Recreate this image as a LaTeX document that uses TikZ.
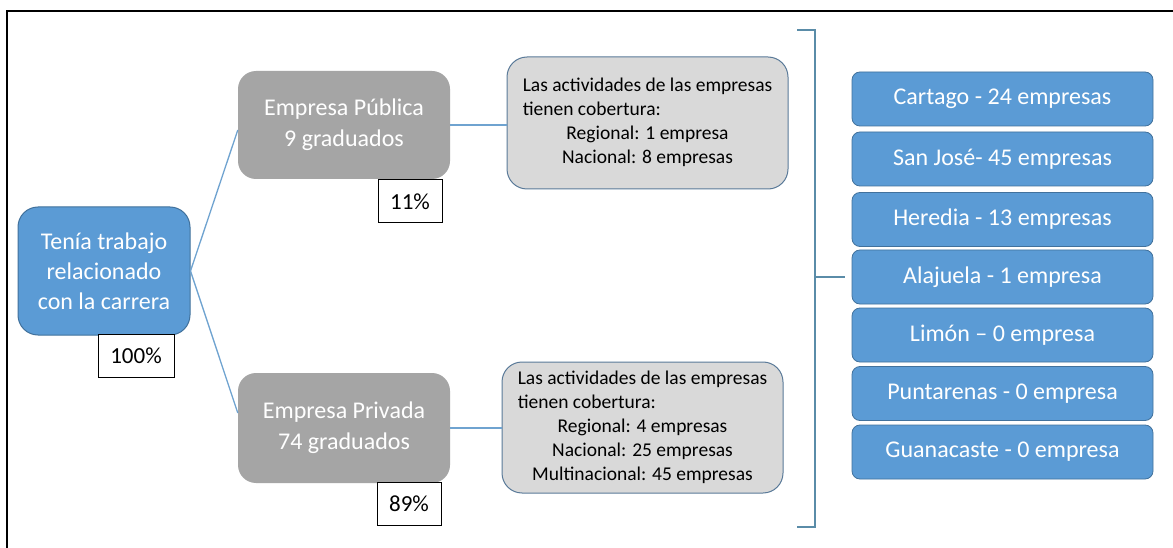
\documentclass[tikz,border=0pt]{standalone}
\usepackage{fontspec}
\setmainfont{Carlito}
\definecolor{blueF}{HTML}{5B9BD5}
\definecolor{blueD}{HTML}{41719C}
\definecolor{grayF}{HTML}{A5A5A5}
\definecolor{infoF}{HTML}{D9D9D9}
\definecolor{infoD}{HTML}{5A7A99}
\definecolor{lineC}{HTML}{6FA3D0}
\definecolor{brackC}{HTML}{5A8CA8}
\begin{document}
\begin{tikzpicture}[x=1pt,y=-1pt,
  bluebox/.style={draw=blueD,line width=1pt,fill=blueF,text=white,rounded corners=20pt,align=center,inner sep=0pt,font=\fontsize{24}{30}\selectfont},
  graybox/.style={fill=grayF,text=white,rounded corners=18pt,align=center,inner sep=0pt,font=\fontsize{24}{31}\selectfont,minimum width=212pt},
  pctbox/.style={draw=black,line width=1pt,fill=white,inner sep=0pt,minimum width=64pt,minimum height=43pt,font=\fontsize{23}{26}\selectfont},
  infobox/.style={draw=infoD,line width=1pt,fill=infoF,rounded corners=20pt,inner sep=0pt,minimum width=281pt,font=\fontsize{19.5}{24}\selectfont},
  regbox/.style={draw=blueD,line width=0.8pt,fill=blueF,text=white,rounded corners=8pt,inner sep=0pt,minimum width=301pt,minimum height=54pt,font=\fontsize{24}{28}\selectfont},
  conn/.style={draw=lineC,line width=1.3pt},
  brack/.style={draw=brackC,line width=2.2pt}]
\useasboundingbox (0,0) rectangle (1173,548);
\fill[white] (0,0) rectangle (1173,548);
% frame
\draw[black,line width=1.3pt] (7,548) -- (7,11) -- (1173,11);

% nodes
\node[bluebox,minimum width=172pt,minimum height=128pt] (tenia) at (104,271) {Tenía trabajo\\relacionado\\con la carrera};
\node[graybox,minimum height=108pt] (pub) at (344,125) {Empresa Pública\\9 graduados};
\node[graybox,minimum height=110pt] (priv) at (344,428) {Empresa Privada\\74 graduados};

\node[infobox,minimum height=132pt] (info1) at (647.5,123) {\begin{tabular}{@{}c@{}}\multicolumn{1}{@{}l@{}}{Las actividades de las empresas}\\ \multicolumn{1}{@{}l@{}}{tienen cobertura:}\\ Regional: 1 empresa\\ Nacional: 8 empresas\end{tabular}};
\node[infobox,minimum height=131pt] (info2) at (642.5,427.5) {\begin{tabular}{@{}c@{}}\multicolumn{1}{@{}l@{}}{Las actividades de las empresas}\\ \multicolumn{1}{@{}l@{}}{tienen cobertura:}\\ Regional: 4 empresas\\ Nacional: 25 empresas\\ Multinacional: 45 empresas\end{tabular}};

\node[regbox] (r1) at (1002.5,99) {Cartago - 24 empresas};
\node[regbox] (r2) at (1002.5,159) {San José- 45 empresas};
\node[regbox] (r3) at (1002.5,219.5) {Heredia - 13 empresas};
\node[regbox] (r4) at (1002.5,277) {Alajuela - 1 empresa};
\node[regbox] (r5) at (1002.5,335) {Limón -- 0 empresa};
\node[regbox] (r6) at (1002.5,393.5) {Puntarenas - 0 empresa};
\node[regbox] (r7) at (1002.5,452) {Guanacaste - 0 empresa};

% connectors
\draw[conn] (tenia.east) -- ([yshift=-5pt]pub.west);
\draw[conn] (tenia.east) -- ([yshift=15pt]priv.west);
\draw[conn] (pub.east) -- (pub.east -| info1.west);
\draw[conn] (priv.east) -- (priv.east -| info2.west);

% bracket
\coordinate (bt) at (797,30);
\coordinate (bb) at (797,527);
\coordinate (bm) at (815,277);
\draw[brack] (bt) -- (815,30) -- (815,527) -- (bb);
\draw[brack] (bm) -- ([xshift=-7pt]r4.west);

% percentages
\node[pctbox,minimum width=76pt] (p100) at (136,355.5) {100\%};
\node[pctbox] (p11) at (410,201.5) {11\%};
\node[pctbox] (p89) at (409,503.5) {89\%};
\end{tikzpicture}
\end{document}
